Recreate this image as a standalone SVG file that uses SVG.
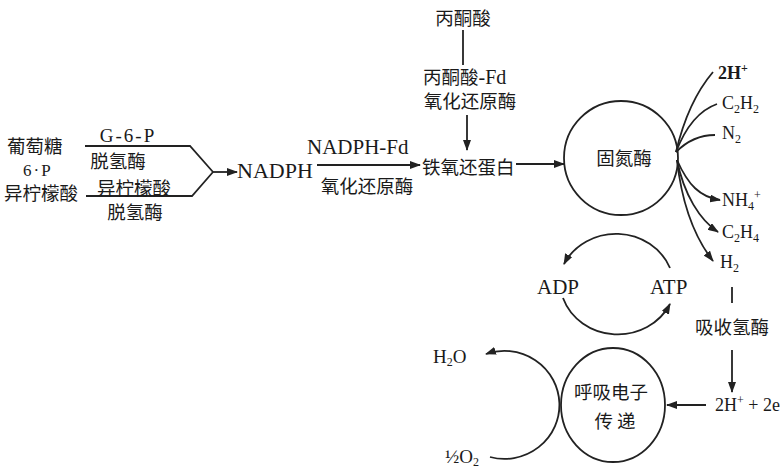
<svg xmlns="http://www.w3.org/2000/svg" width="782" height="472" viewBox="0 0 782 472">
<defs>
<style>
.ln{fill:none;stroke:#222;stroke-width:1.8}
.t{font-family:"Liberation Serif","Noto Sans CJK SC",serif;fill:#1a1a1a}
.c{font-family:"Noto Sans CJK SC",serif;fill:#1a1a1a;font-size:18.5px}
</style>
<marker id="ah" markerUnits="userSpaceOnUse" markerWidth="11" markerHeight="8" refX="10" refY="4" orient="auto">
<path d="M0,0 L11,4 L0,8 Z" fill="#222"/>
</marker>
</defs>
<rect width="782" height="472" fill="#fff"/>

<g id="connectors">
<path class="ln" d="M85,146 H190 L213,172"/>
<path class="ln" d="M86,196 H192 L213,172"/>
<path class="ln" d="M213,172 H237" marker-end="url(#ah)"/>
<path class="ln" d="M317,165 H420" marker-end="url(#ah)"/>
<path class="ln" d="M463,30 V65"/>
<path class="ln" d="M467,115 V150" marker-end="url(#ah)"/>
<path class="ln" d="M516,164 H564" marker-end="url(#ah)"/>
<path class="ln" d="M676,152 C684,118 696,92 713,72"/>
<path class="ln" d="M676,152 C686,126 700,110 717,104"/>
<path class="ln" d="M676,152 C688,140 700,135 715,135"/>
<path class="ln" d="M677,160 C688,185 700,197 720,200" marker-end="url(#ah)"/>
<path class="ln" d="M677,160 C684,195 700,220 718,232" marker-end="url(#ah)"/>
<path class="ln" d="M677,160 C682,205 695,238 713,261" marker-end="url(#ah)"/>
<path class="ln" d="M670,268 A58 54 0 0 0 564,264" marker-end="url(#ah)"/>
<path class="ln" d="M563,298 A58 54 0 0 0 670,304" marker-end="url(#ah)"/>
<path class="ln" d="M490,457 A55 54 0 1 0 486,354" marker-end="url(#ah)"/>
<path class="ln" d="M732,287 V303"/>
<path class="ln" d="M732,350 V392" marker-end="url(#ah)"/>
<path class="ln" d="M706,405 H667" marker-end="url(#ah)"/>
</g>

<g id="glucose6p">
<text class="c" x="7" y="153">葡萄糖</text>
<text class="t" x="23" y="176" font-size="17" letter-spacing="2">6·P</text>
</g>
<g id="isocitrate">
<text class="c" x="4" y="200">异柠檬酸</text>
</g>
<g id="g6p-dh">
<text class="t" x="128" y="142" font-size="19" text-anchor="middle" letter-spacing="2">G-6-P</text>
<text class="c" x="118" y="168" text-anchor="middle">脱氢酶</text>
</g>
<g id="icd-dh">
<text class="c" x="134" y="195" text-anchor="middle">异柠檬酸</text>
<text class="c" x="135" y="219" text-anchor="middle">脱氢酶</text>
</g>
<g id="nadph">
<text class="t" x="237" y="178" font-size="22">NADPH</text>
</g>
<g id="nadph-fd">
<text class="t" x="307" y="154" font-size="21">NADPH-Fd</text>
<text class="c" x="367" y="193" text-anchor="middle">氧化还原酶</text>
</g>
<g id="pyruvate">
<text class="c" x="463" y="25" text-anchor="middle">丙酮酸</text>
</g>
<g id="pyruvate-fd">
<text class="c" x="423" y="84">丙酮酸<tspan class="t" font-size="20">-Fd</tspan></text>
<text class="c" x="470" y="108" text-anchor="middle">氧化还原酶</text>
</g>
<g id="ferredoxin">
<text class="c" x="422" y="174">铁氧还蛋白</text>
</g>
<g id="nitrogenase">
<circle class="ln" cx="621" cy="158" r="57"/>
<text class="c" x="624" y="165" text-anchor="middle">固氮酶</text>
</g>
<g id="substrates" class="t" font-size="18">
<text x="718" y="79" font-weight="bold">2H<tspan font-size="12" dy="-7">+</tspan></text>
<text x="722" y="109">C<tspan font-size="12" dy="4">2</tspan><tspan dy="-4">H</tspan><tspan font-size="12" dy="4">2</tspan></text>
<text x="722" y="139">N<tspan font-size="12" dy="4">2</tspan></text>
</g>
<g id="products" class="t" font-size="18">
<text x="722" y="206">NH<tspan font-size="12" dy="4">4</tspan><tspan font-size="12" dy="-11">+</tspan></text>
<text x="722" y="238">C<tspan font-size="12" dy="4">2</tspan><tspan dy="-4">H</tspan><tspan font-size="12" dy="4">4</tspan></text>
<text x="720" y="268">H<tspan font-size="12" dy="4">2</tspan></text>
</g>
<g id="adp">
<text class="t" x="537" y="294" font-size="21">ADP</text>
</g>
<g id="atp">
<text class="t" x="650" y="294" font-size="21">ATP</text>
</g>
<g id="respiration">
<ellipse class="ln" cx="613" cy="405" rx="52" ry="57"/>
<text class="c" x="611" y="399" font-size="16" text-anchor="middle">呼吸电子</text>
<text class="c" x="617" y="428" font-size="17" text-anchor="middle" letter-spacing="4">传递</text>
</g>
<g id="water">
<text class="t" x="433" y="363" font-size="19">H<tspan font-size="12" dy="3">2</tspan><tspan dy="-3">O</tspan></text>
</g>
<g id="oxygen">
<text class="t" x="445" y="463" font-size="19">½O<tspan font-size="12" dy="3">2</tspan></text>
</g>
<g id="hydrogenase">
<text class="c" x="695" y="334">吸收氢酶</text>
</g>
<g id="protons">
<text class="t" x="715" y="411" font-size="18">2H<tspan font-size="12" dy="-7">+</tspan><tspan dy="7"> + 2e</tspan></text>
</g>
</svg>
